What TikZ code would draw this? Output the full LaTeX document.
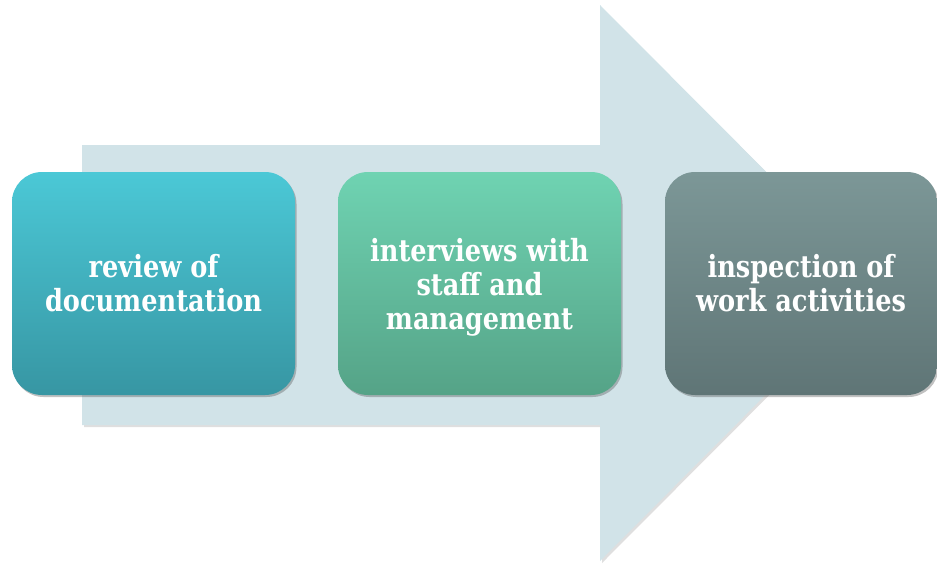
\documentclass[tikz,border=0pt]{standalone}
\usepackage{fontspec}
\setmainfont{DejaVu Serif}[FakeStretch=0.84]
\usetikzlibrary{shadows}
\definecolor{arrowfill}{HTML}{D1E3E8}
\definecolor{aTop}{HTML}{4BC8D6}
\definecolor{aBot}{HTML}{3796A3}
\definecolor{bTop}{HTML}{6FD3B2}
\definecolor{bBot}{HTML}{55A387}
\definecolor{cTop}{HTML}{7C9797}
\definecolor{cBot}{HTML}{5F7576}
\tikzset{
  stepbox/.style={rounded corners=30pt, minimum width=283pt, minimum height=223pt,
    inner sep=0pt, text=white, align=center,
    font=\bfseries\fontsize{30.5}{34}\selectfont,
    drop shadow={shadow xshift=1.5pt, shadow yshift=-2pt, opacity=0.35, fill=black!70}},
}
\begin{document}
\begin{tikzpicture}[x=1pt,y=-1pt]
\useasboundingbox (0,0) rectangle (937,563);
\fill[black!25,opacity=0.5] (84,147) -- (602,147) -- (602,8) -- (879,285) -- (602,563) -- (602,427) -- (84,427) -- cycle;
\fill[arrowfill] (82,145) -- (600,145) -- (600,5) -- (877,283) -- (600,561) -- (600,425) -- (82,425) -- cycle;
\node[stepbox, top color=aTop, bottom color=aBot] (b1) at (153.5,283.5) {review of\\documentation};
\node[stepbox, top color=bTop, bottom color=bBot] (b2) at (479.5,283.5) {\rule{0pt}{30pt}interviews with\\staff and\\management};
\node[stepbox, minimum width=272pt, top color=cTop, bottom color=cBot] (b3) at (801,283.5) {inspection of\\work activities};
\end{tikzpicture}
\end{document}
